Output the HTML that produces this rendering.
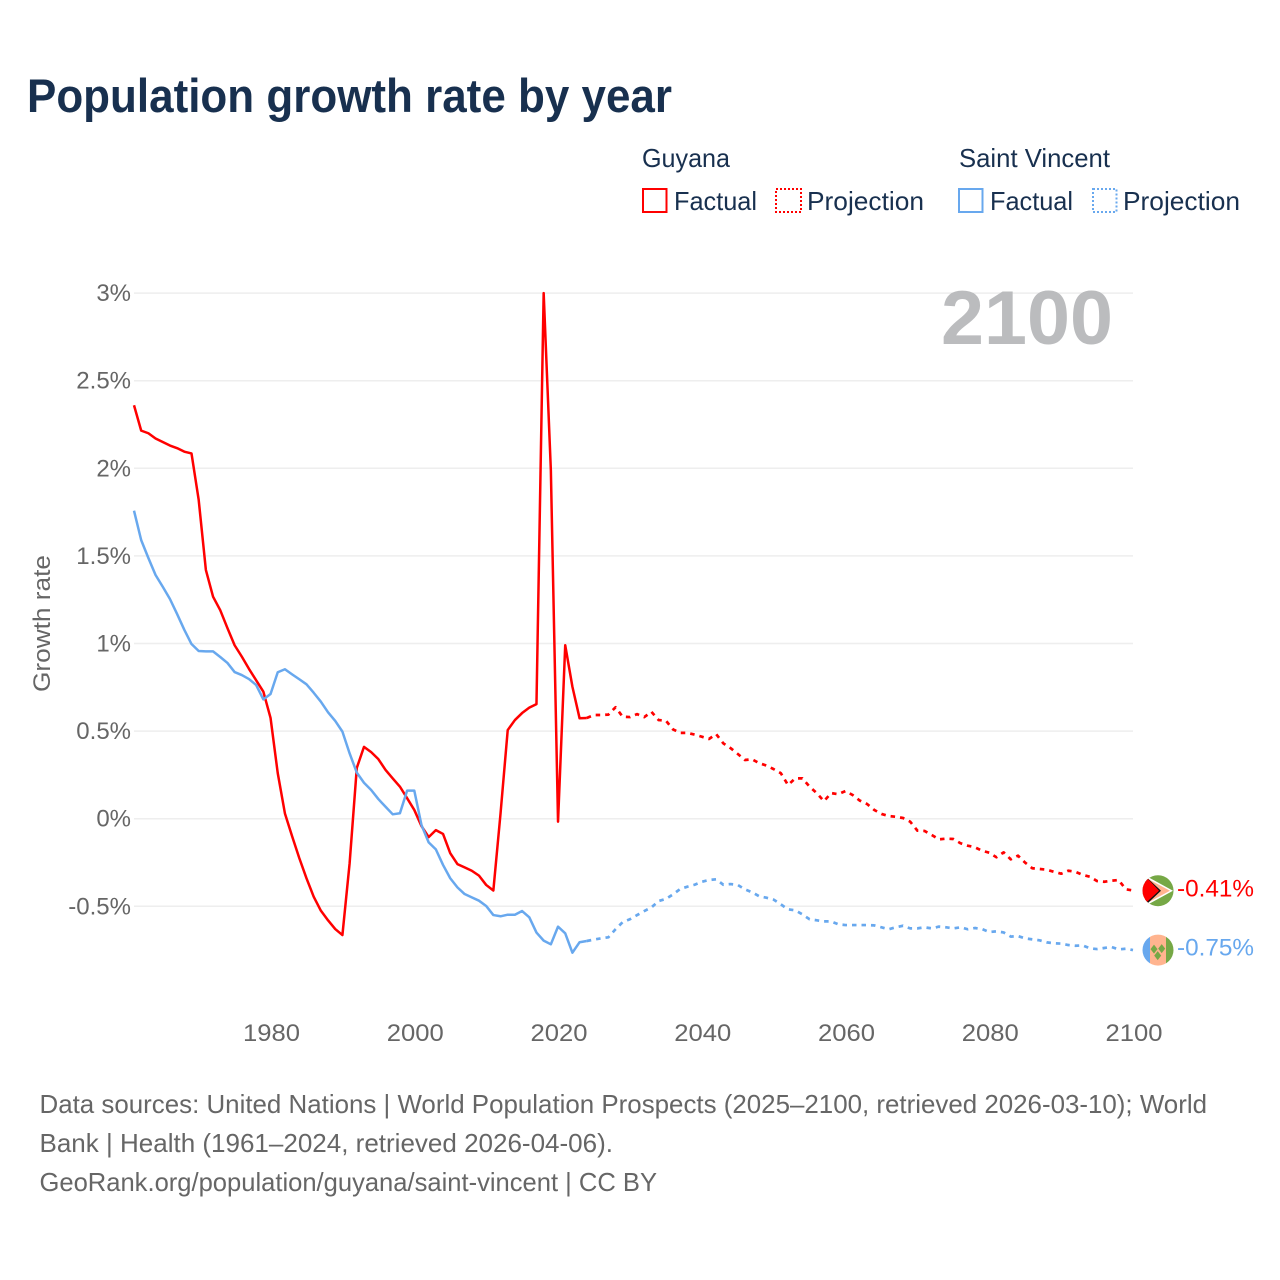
<!DOCTYPE html>
<html lang="en">
<head>
<meta charset="utf-8">
<title>Population growth rate by year</title>
<style>
html,body{margin:0;padding:0;background:#fff;width:1280px;height:1280px;overflow:hidden}
svg{display:block}
text{font-family:"Liberation Sans",sans-serif}
</style>
</head>
<body>
<svg id="chart" width="1280" height="1280" viewBox="0 0 1280 1280" xmlns="http://www.w3.org/2000/svg">
  <defs>
    <clipPath id="guyana-clip"><circle id="guyana-clip-circle" cx="1158" cy="890" r="15.5"></circle></clipPath>
    <clipPath id="vincent-clip"><circle id="vincent-clip-circle" cx="1158" cy="949" r="15.5"></circle></clipPath>
  </defs>
  <text x="27" y="112" font-size="47" font-weight="700" fill="#18304f" textLength="645" lengthAdjust="spacingAndGlyphs">Population growth rate by year</text>

  <g font-size="26" fill="#18304f">
    <text x="642" y="167" textLength="88" lengthAdjust="spacingAndGlyphs">Guyana</text>
    <text x="959" y="167" textLength="151" lengthAdjust="spacingAndGlyphs">Saint Vincent</text>
    <rect x="643" y="189" width="23.5" height="23" fill="none" stroke="#ff0000" stroke-width="2"></rect>
    <text x="674" y="210" textLength="83" lengthAdjust="spacingAndGlyphs">Factual</text>
    <rect x="776" y="189" width="25" height="23" fill="none" stroke="#ff0000" stroke-width="2" stroke-dasharray="2 2"></rect>
    <text x="807" y="210" textLength="117" lengthAdjust="spacingAndGlyphs">Projection</text>
    <rect x="959" y="189" width="23.5" height="23" fill="none" stroke="#68a8ee" stroke-width="2"></rect>
    <text x="990" y="210" textLength="83" lengthAdjust="spacingAndGlyphs">Factual</text>
    <rect x="1093" y="189" width="23.5" height="23" fill="none" stroke="#68a8ee" stroke-width="2" stroke-dasharray="2 2"></rect>
    <text x="1123" y="210" textLength="117" lengthAdjust="spacingAndGlyphs">Projection</text>
  </g>

  <g id="grid"></g>
  <text transform="translate(50 692) rotate(-90)" font-size="24" fill="#666666" textLength="137" lengthAdjust="spacingAndGlyphs">Growth rate</text>
  <g id="y-ticks"></g>
  <g id="x-ticks"></g>
  <text x="941" y="344" font-size="76" font-weight="700" fill="#bbbcbe" textLength="172" lengthAdjust="spacingAndGlyphs">2100</text>
  <g id="series"></g>

  <g id="guyana-flag" clip-path="url(#guyana-clip)"></g>
  <g id="vincent-flag" clip-path="url(#vincent-clip)"></g>
  <text id="guyana-end-label" x="1177" font-size="24" fill="#ff0000" textLength="77" lengthAdjust="spacingAndGlyphs">-0.41%</text>
  <text id="vincent-end-label" x="1177" font-size="24" fill="#68a8ee" textLength="77" lengthAdjust="spacingAndGlyphs">-0.75%</text>

  <g font-size="26" fill="#666666">
    <text x="39.5" y="1113" textLength="1167.5" lengthAdjust="spacingAndGlyphs">Data sources: United Nations | World Population Prospects (2025–2100, retrieved 2026-03-10); World</text>
    <text x="39.5" y="1152" textLength="573.5" lengthAdjust="spacingAndGlyphs">Bank | Health (1961–2024, retrieved 2026-04-06).</text>
    <text x="39.5" y="1191" textLength="617.5" lengthAdjust="spacingAndGlyphs">GeoRank.org/population/guyana/saint-vincent | CC BY</text>
  </g>
</svg>

<script>
const firstFactualYear = 1961;
const firstProjectionYear = 2025;
const yTickValues = [-0.5, 0, 0.5, 1, 1.5, 2, 2.5, 3];
const yTickLabels = ["-0.5%", "0%", "0.5%", "1%", "1.5%", "2%", "2.5%", "3%"];
const xTickYears = [1980, 2000, 2020, 2040, 2060, 2080, 2100];

const guyanaFactual = [
  2.36,2.215,2.20,2.17,2.15,2.13,2.115,2.095,2.085,1.82,
  1.42,1.267,1.19,1.088,0.99,0.925,0.855,0.79,0.725,0.575,
  0.26,0.03,-0.10,-0.225,-0.34,-0.445,-0.525,-0.58,-0.63,-0.664,
  -0.255,0.29,0.41,0.38,0.34,0.278,0.23,0.183,0.117,0.05,
  -0.042,-0.105,-0.065,-0.087,-0.197,-0.259,-0.278,-0.297,-0.325,-0.378,
  -0.41,0.03,0.506,0.563,0.603,0.634,0.654,3.0,1.99,-0.017,
  0.99,0.753,0.573,0.575
];
const guyanaProjection = [
  0.592,0.592,0.594,0.636,0.582,0.58,
  0.597,0.58,0.61,0.563,0.56,0.51,0.49,0.49,0.48,0.468,
  0.455,0.483,0.43,0.403,0.37,0.335,0.339,0.317,0.303,0.283,
  0.26,0.192,0.23,0.23,0.183,0.146,0.1,0.146,0.14,0.158,
  0.135,0.103,0.084,0.05,0.027,0.015,0.011,0.004,-0.017,-0.068,
  -0.07,-0.093,-0.118,-0.114,-0.116,-0.14,-0.154,-0.163,-0.183,-0.194,
  -0.22,-0.192,-0.232,-0.211,-0.251,-0.283,-0.287,-0.291,-0.303,-0.314,
  -0.297,-0.303,-0.321,-0.331,-0.356,-0.36,-0.354,-0.35,-0.403,-0.41
];
const vincentFactual = [
  1.758,1.59,1.488,1.391,1.324,1.254,1.168,1.078,0.997,0.957,
  0.955,0.955,0.923,0.889,0.837,0.82,0.797,0.763,0.681,0.712,
  0.836,0.853,0.824,0.796,0.767,0.719,0.668,0.607,0.558,0.497,
  0.373,0.263,0.205,0.164,0.112,0.068,0.025,0.031,0.16,0.16,
  -0.036,-0.135,-0.175,-0.264,-0.34,-0.392,-0.43,-0.449,-0.468,-0.498,
  -0.55,-0.557,-0.548,-0.548,-0.527,-0.563,-0.65,-0.696,-0.717,-0.616,
  -0.654,-0.765,-0.705,-0.698
];
const vincentProjection = [
  -0.69,-0.683,-0.677,-0.631,-0.59,-0.574,
  -0.55,-0.527,-0.506,-0.47,-0.458,-0.432,-0.401,-0.388,-0.377,-0.36,
  -0.35,-0.346,-0.377,-0.373,-0.378,-0.403,-0.42,-0.443,-0.451,-0.462,
  -0.489,-0.517,-0.523,-0.546,-0.574,-0.58,-0.586,-0.586,-0.603,-0.607,
  -0.607,-0.607,-0.607,-0.609,-0.62,-0.631,-0.62,-0.611,-0.626,-0.626,
  -0.62,-0.626,-0.616,-0.62,-0.626,-0.62,-0.631,-0.624,-0.63,-0.647,
  -0.643,-0.649,-0.673,-0.67,-0.683,-0.689,-0.694,-0.706,-0.711,-0.713,
  -0.721,-0.725,-0.723,-0.74,-0.744,-0.738,-0.732,-0.746,-0.742,-0.75
];

const NS = "http://www.w3.org/2000/svg";
function xScale(year) { return 134 + (year - 1961) * 7.187; }
function yScale(value) { return 818.7 - value * 175.2; }
function make(tag, parent, attrs) {
  const el = document.createElementNS(NS, tag);
  for (const k in attrs) el.setAttribute(k, attrs[k]);
  parent.appendChild(el);
  return el;
}
function pointsFor(values, startYear, prefix) {
  const pts = prefix ? [prefix] : [];
  values.forEach(function (v, i) {
    pts.push(xScale(startYear + i).toFixed(2) + "," + yScale(v).toFixed(2));
  });
  return pts;
}
function lastPoint(values, startYear) {
  const i = values.length - 1;
  return xScale(startYear + i).toFixed(2) + "," + yScale(values[i]).toFixed(2);
}

const gridG = document.getElementById("grid");
const yG = document.getElementById("y-ticks");
yTickValues.forEach(function (v, i) {
  const line = make("line", gridG, { x1: 134, x2: 1133, y1: yScale(v), y2: yScale(v), stroke: "#eeeeee", "stroke-width": 1.5 });
  
  
  const t = make("text", yG, { x: 131, y: yScale(v) + 8, "font-size": 24, fill: "#666666", "text-anchor": "end" });
  
  
  t.textContent = yTickLabels[i];
});

const xG = document.getElementById("x-ticks");
xTickYears.forEach(function (yr) {
  const t = make("text", xG, { x: xScale(yr) + 1, y: 1041, "font-size": 24, fill: "#666666", "text-anchor": "middle", textLength: 57, lengthAdjust: "spacingAndGlyphs" });
  
  
  t.textContent = yr;
});

const seriesG = document.getElementById("series");
const common = { fill: "none", "stroke-width": 2.5, "stroke-linejoin": "round" };
const dashed = { "stroke-width": 2.7, "stroke-dasharray": "4.5 5" };

const guyanaProjLine = make("polyline", seriesG, Object.assign({}, common, dashed, { stroke: "#ff0000", points: pointsFor(guyanaProjection, firstProjectionYear, lastPoint(guyanaFactual, firstFactualYear)).join(" ") }));



const vincentProjLine = make("polyline", seriesG, Object.assign({}, common, dashed, { stroke: "#68a8ee", points: pointsFor(vincentProjection, firstProjectionYear, lastPoint(vincentFactual, firstFactualYear)).join(" ") }));



const guyanaLine = make("polyline", seriesG, Object.assign({}, common, { stroke: "#ff0000", points: pointsFor(guyanaFactual, firstFactualYear).join(" ") }));



const vincentLine = make("polyline", seriesG, Object.assign({}, common, { stroke: "#68a8ee", points: pointsFor(vincentFactual, firstFactualYear).join(" ") }));



/* End-of-line flags and value labels follow the final data value */
const flagCx = 1158;
const gy = yScale(guyanaProjection[guyanaProjection.length - 1]) + 0.2;
const vy = yScale(vincentProjection[vincentProjection.length - 1]);
document.getElementById("guyana-clip-circle").setAttribute("cy", gy);
document.getElementById("vincent-clip-circle").setAttribute("cy", vy);
document.getElementById("guyana-end-label").setAttribute("y", gy + 6);
document.getElementById("vincent-end-label").setAttribute("y", vy + 5.5);

const gFlag = document.getElementById("guyana-flag");
make("rect", gFlag, { x: flagCx - 16, y: gy - 16, width: 32, height: 32, fill: "#76a846" });
make("polygon", gFlag, { points: [(flagCx-16)+","+(gy-17),(flagCx+15)+","+gy,(flagCx-16)+","+(gy+17)].join(" "), fill: "#fff" });
make("polygon", gFlag, { points: [(flagCx-16)+","+(gy-15),(flagCx+12)+","+gy,(flagCx-16)+","+(gy+15)].join(" "), fill: "#ffb48f" });
make("polygon", gFlag, { points: [(flagCx-13)+","+(gy-15),(flagCx+3)+","+gy,(flagCx-13)+","+(gy+15)].join(" "), fill: "#111" });
make("polygon", gFlag, { points: [(flagCx-16)+","+(gy-15),(flagCx-13)+","+(gy-15),(flagCx+1)+","+gy,(flagCx-13)+","+(gy+13),(flagCx-16)+","+(gy+13)].join(" "), fill: "#ff0000" });

const vFlag = document.getElementById("vincent-flag");
make("rect", vFlag, { x: flagCx - 16, y: vy - 16, width: 8, height: 32, fill: "#68a8ee" });
make("rect", vFlag, { x: flagCx - 8, y: vy - 16, width: 16, height: 32, fill: "#ffb48f" });
make("rect", vFlag, { x: flagCx + 8, y: vy - 16, width: 8, height: 32, fill: "#76a846" });
[[-4, -1], [3.7, -1.5], [-0.3, 5.5]].forEach(function (d) {
  const cx = flagCx + d[0], cy = vy + d[1];
  make("polygon", vFlag, { points: [cx+","+(cy-4.5),(cx+3.5)+","+cy,cx+","+(cy+4.5),(cx-3.5)+","+cy].join(" "), fill: "#76a846" });
});
</script>
</body>
</html>
